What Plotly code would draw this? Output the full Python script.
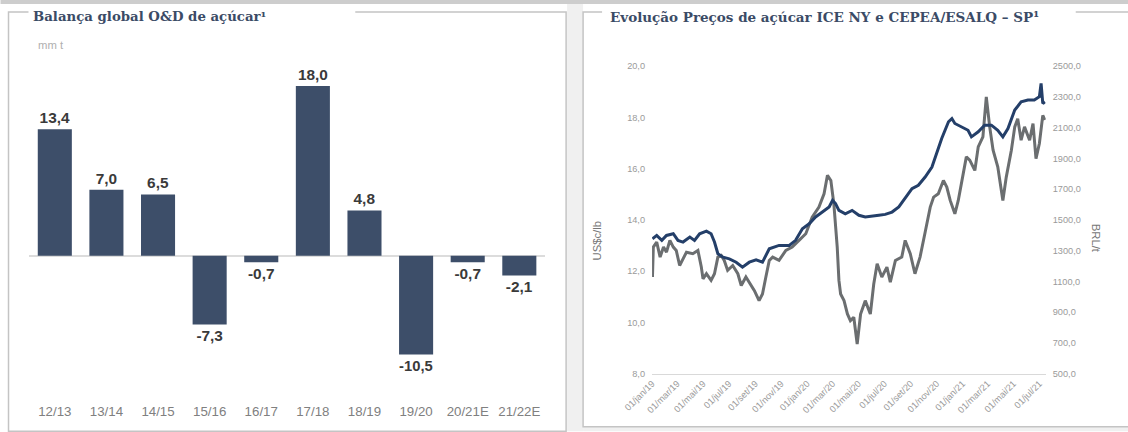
import plotly.graph_objects as go

W, H = 1128, 432

# Balança global O&D de açúcar (mm t)
safras = ["12/13", "13/14", "14/15", "15/16", "16/17", "17/18", "18/19", "19/20", "20/21E", "21/22E"]
balanca = [13.4, 7.0, 6.5, -7.3, -0.7, 18.0, 4.8, -10.5, -0.7, -2.1]

# ICE NY (US$c/lb)
ice_datas = [
    "2019-01-02", "2019-01-04", "2019-01-12", "2019-01-20", "2019-01-28", "2019-02-04", "2019-02-12",
    "2019-02-20", "2019-02-27", "2019-03-07", "2019-03-15", "2019-03-23", "2019-04-07", "2019-04-19",
    "2019-04-27", "2019-05-01", "2019-05-09", "2019-05-20", "2019-05-28", "2019-06-05", "2019-06-13",
    "2019-06-20", "2019-06-28", "2019-07-10", "2019-07-22", "2019-07-30", "2019-08-10", "2019-08-18",
    "2019-08-30", "2019-09-10", "2019-09-18", "2019-09-26", "2019-10-04", "2019-10-12", "2019-10-27",
    "2019-11-12", "2019-11-27", "2019-12-13", "2019-12-29", "2020-01-13", "2020-01-29", "2020-02-10",
    "2020-02-18", "2020-02-26", "2020-03-01", "2020-03-04", "2020-03-12", "2020-03-16", "2020-03-20",
    "2020-03-28", "2020-04-05", "2020-04-12", "2020-04-20", "2020-04-28", "2020-05-06", "2020-05-17",
    "2020-05-29", "2020-06-06", "2020-06-14", "2020-06-25", "2020-07-07", "2020-07-15", "2020-07-27",
    "2020-08-11", "2020-08-19", "2020-08-31", "2020-09-11", "2020-09-23", "2020-10-05", "2020-10-17",
    "2020-10-25", "2020-11-05", "2020-11-17", "2020-11-25", "2020-12-03", "2020-12-14", "2020-12-22",
    "2020-12-30", "2021-01-10", "2021-01-18", "2021-01-30", "2021-02-07", "2021-02-18", "2021-02-26",
    "2021-03-06", "2021-03-14", "2021-03-25", "2021-04-06", "2021-04-14", "2021-04-26", "2021-05-04",
    "2021-05-11", "2021-05-19", "2021-05-27", "2021-06-08", "2021-06-16", "2021-06-23", "2021-07-01",
    "2021-07-09", "2021-07-14",
]
ice_valores = [
    11.77, 12.94, 13.13, 12.55, 12.94, 12.74, 13.20,
    12.94, 12.81, 12.22, 12.48, 12.74, 12.68, 12.81,
    12.16, 11.70, 11.90, 11.64, 11.90, 12.55, 12.61,
    12.42, 12.03, 12.22, 11.90, 11.44, 11.77, 11.57,
    11.24, 10.85, 11.11, 11.77, 12.42, 12.55, 12.42,
    12.81, 12.94, 13.20, 13.46, 14.11, 14.50, 15.02,
    15.74, 15.54, 15.02, 14.63, 12.94, 11.64, 11.11,
    10.85, 10.33, 10.07, 10.20, 9.16, 10.33, 10.85,
    10.33, 11.50, 12.29, 11.77, 12.16, 11.57, 12.42,
    12.55, 13.20, 12.68, 11.90, 12.55, 13.52, 14.50,
    14.89, 15.02, 15.54, 15.28, 14.76, 14.24, 14.76,
    15.54, 16.46, 16.33, 15.93, 16.85, 17.24, 18.80,
    17.63, 16.72, 16.07, 14.76, 15.67, 16.72, 17.63,
    17.95, 17.11, 17.63, 17.11, 17.76, 16.39, 16.98,
    18.08, 17.90,
]

# CEPEA/ESALQ - SP (BRL/t)
cepea_datas = [
    "2019-01-02", "2019-01-12", "2019-01-24", "2019-02-04", "2019-02-20", "2019-03-03", "2019-03-15",
    "2019-03-31", "2019-04-11", "2019-04-23", "2019-05-09", "2019-05-20", "2019-05-28", "2019-06-05",
    "2019-06-17", "2019-07-02", "2019-07-18", "2019-08-02", "2019-08-18", "2019-09-03", "2019-09-18",
    "2019-10-04", "2019-10-27", "2019-11-20", "2019-12-05", "2019-12-21", "2020-01-06", "2020-01-21",
    "2020-02-06", "2020-02-22", "2020-03-01", "2020-03-08", "2020-03-16", "2020-03-31", "2020-04-16",
    "2020-05-02", "2020-05-17", "2020-06-02", "2020-06-18", "2020-07-03", "2020-07-19", "2020-08-04",
    "2020-08-19", "2020-09-04", "2020-09-19", "2020-10-05", "2020-10-21", "2020-11-01", "2020-11-13",
    "2020-11-29", "2020-12-07", "2020-12-14", "2020-12-30", "2021-01-14", "2021-01-22", "2021-02-07",
    "2021-02-22", "2021-03-10", "2021-03-25", "2021-04-06", "2021-04-18", "2021-05-04", "2021-05-19",
    "2021-06-04", "2021-06-19", "2021-07-01", "2021-07-05", "2021-07-09", "2021-07-14",
]
cepea_valores = [
    1377, 1399, 1367, 1399, 1410, 1367, 1356,
    1388, 1367, 1410, 1427, 1410, 1356, 1280,
    1258, 1247, 1225, 1193, 1225, 1241, 1225,
    1312, 1334, 1334, 1367, 1443, 1475, 1519,
    1551, 1584, 1627, 1606, 1562, 1540, 1562,
    1530, 1519, 1523, 1530, 1536, 1551, 1584,
    1638, 1703, 1725, 1779, 1844, 1931, 2029,
    2138, 2159, 2127, 2105, 2083, 2040, 2073,
    2116, 2116, 2083, 2040, 2094, 2214, 2268,
    2279, 2279, 2301, 2387, 2257, 2268,
]

# Marcas do eixo de datas
datas_marcas = [
    "2019-01-01", "2019-03-01", "2019-05-01", "2019-07-01", "2019-09-01", "2019-11-01",
    "2020-01-01", "2020-03-01", "2020-05-01", "2020-07-01", "2020-09-01", "2020-11-01",
    "2021-01-01", "2021-03-01", "2021-05-01", "2021-07-01",
]
rotulos_marcas = [
    "01/jan/19", "01/mar/19", "01/mai/19", "01/jul/19", "01/set/19", "01/nov/19",
    "01/jan/20", "01/mar/20", "01/mai/20", "01/jul/20", "01/set/20", "01/nov/20",
    "01/jan/21", "01/mar/21", "01/mai/21", "01/jul/21",
]

# A captura mostra a figura reduzida (~0.975) e deslocada; as posicoes abaixo
# sao dadas em pixels da imagem de referencia e convertidas para o papel.
OX, OY, S = 28.5, 5.0, 0.975


def px(x):
    return ((x - OX) / S) / W


def py(y):
    return 1 - ((y - OY) / S) / H


def fs(size):
    return round(size / S, 1)


AZUL = "#3d4e69"
TITULO = "#3b4b66"
CINZA_TXT = "#9a9a9a"
NARROW = "Liberation Sans Narrow, Arial Narrow, Liberation Sans, sans-serif"

fig = go.Figure()

fig.add_trace(
    go.Bar(
        x=safras,
        y=balanca,
        marker=dict(color=AZUL, line=dict(width=0)),
        text=[f"{v:.1f}".replace(".", ",") for v in balanca],
        textposition="outside",
        textfont=dict(family=NARROW, size=fs(15), color="#3a3a3a", weight="bold"),
        cliponaxis=False,
        xaxis="x",
        yaxis="y",
        hoverinfo="skip",
    )
)

fig.add_trace(
    go.Scatter(
        x=ice_datas,
        y=ice_valores,
        mode="lines",
        line=dict(color="#6b6e70", width=3),
        name="ICE NY",
        xaxis="x2",
        yaxis="y2",
    )
)
fig.add_trace(
    go.Scatter(
        x=cepea_datas,
        y=cepea_valores,
        mode="lines",
        line=dict(color="#243f69", width=3),
        name="CEPEA/ESALQ",
        xaxis="x2",
        yaxis="y3",
    )
)


def caixa(x0, x1, y0, y1, **kw):
    return dict(type="rect", xref="paper", yref="paper",
                x0=max(px(x0), -0.05), x1=min(px(x1), 1.01),
                y0=max(py(y1), -0.01), y1=min(py(y0), 1.02), layer="below", **kw)


# moldura dos paineis e fundo
shapes = [
    caixa(0, 1130, 0, 4, fillcolor="#cdcdcd", line=dict(width=0)),
    caixa(567, 583, 4, 440, fillcolor="#f0f0f0", line=dict(width=0)),
    caixa(583, 1130, 426, 440, fillcolor="#f0f0f0", line=dict(width=0)),
    caixa(8, 566, 12, 440, line=dict(color="#c4c4c4", width=1.5)),
    caixa(583, 1140, 12, 426, line=dict(color="#c4c4c4", width=1.5)),
    # fundo branco dos titulos sobre a moldura
    caixa(28, 355, 9, 15, fillcolor="white", line=dict(width=0)),
    caixa(602, 1076, 9, 15, fillcolor="white", line=dict(width=0)),
]


def nota(text, x, y, **kw):
    base = dict(text=text, xref="paper", yref="paper", x=px(x), y=py(y), showarrow=False)
    base.update(kw)
    return base


annotations = [
    nota("Balança global O&D de açúcar¹", 30, 16, xanchor="left", yanchor="middle",
         bgcolor="white", borderpad=2,
         font=dict(family="DejaVu Serif", size=fs(13), color=TITULO, weight="bold")),
    nota("mm t", 36, 45, xanchor="left", yanchor="middle",
         font=dict(family=NARROW, size=fs(11), color="#b0b0b0")),
    nota("Evolução Preços de açúcar ICE NY e CEPEA/ESALQ – SP¹", 607, 17,
         xanchor="left", yanchor="middle", bgcolor="white", borderpad=2,
         font=dict(family="DejaVu Serif", size=fs(13.2), color=TITULO, weight="bold")),
    nota("US$c/lb", 597, 240, textangle=-90,
         font=dict(family="Liberation Sans", size=fs(11), color="#777777")),
    nota("BRL/t", 1104, 238, textangle=90,
         font=dict(family="Liberation Sans", size=fs(11), color="#777777")),
]

fig.update_layout(
    width=W,
    height=H,
    margin=dict(l=0, r=0, t=0, b=0),
    paper_bgcolor="white",
    plot_bgcolor="rgba(0,0,0,0)",
    showlegend=False,
    separators=",.",
    bargap=0.34,
    shapes=shapes,
    annotations=annotations,
    xaxis=dict(
        domain=[max(px(28), 0), px(545)], anchor="y", type="category",
        showgrid=False, showline=False, ticks="",
        tickfont=dict(family=NARROW, size=fs(13), color="#808080"),
    ),
    yaxis=dict(
        domain=[py(401), py(67)], anchor="x", range=[-15.5, 20],
        showgrid=False, showticklabels=False, ticks="",
        zeroline=True, zerolinecolor="#dcdcdc", zerolinewidth=1.5,
    ),
    xaxis2=dict(
        domain=[px(652), px(1046)], anchor="y2", type="date",
        range=["2019-01-01", "2021-07-16"],
        tickvals=datas_marcas, ticktext=rotulos_marcas, tickangle=-45,
        tickfont=dict(family=NARROW, size=fs(9), color=CINZA_TXT),
        showgrid=False, showline=True, linecolor="#d9d9d9", linewidth=1, ticks="",
    ),
    yaxis2=dict(
        domain=[py(373), py(66)], anchor="x2", range=[8, 20], dtick=2, tickformat=".1f",
        tickfont=dict(family=NARROW, size=fs(9), color=CINZA_TXT),
        showgrid=False, zeroline=False, ticks="", ticklabelstandoff=6,
    ),
    yaxis3=dict(
        domain=[py(373), py(66)], anchor="x2", overlaying="y2", side="right",
        range=[500, 2500], dtick=200, tick0=500, tickformat=".1f",
        tickfont=dict(family=NARROW, size=fs(9), color=CINZA_TXT),
        showgrid=False, zeroline=False, ticks="", ticklabelstandoff=6,
    ),
)

# a pagina sem margem, para a figura ocupar a janela toda
fig.write_html(
    "out.html",
    config={"displayModeBar": False},
    post_script="document.body.style.margin='0';document.body.style.overflow='hidden';",
)
